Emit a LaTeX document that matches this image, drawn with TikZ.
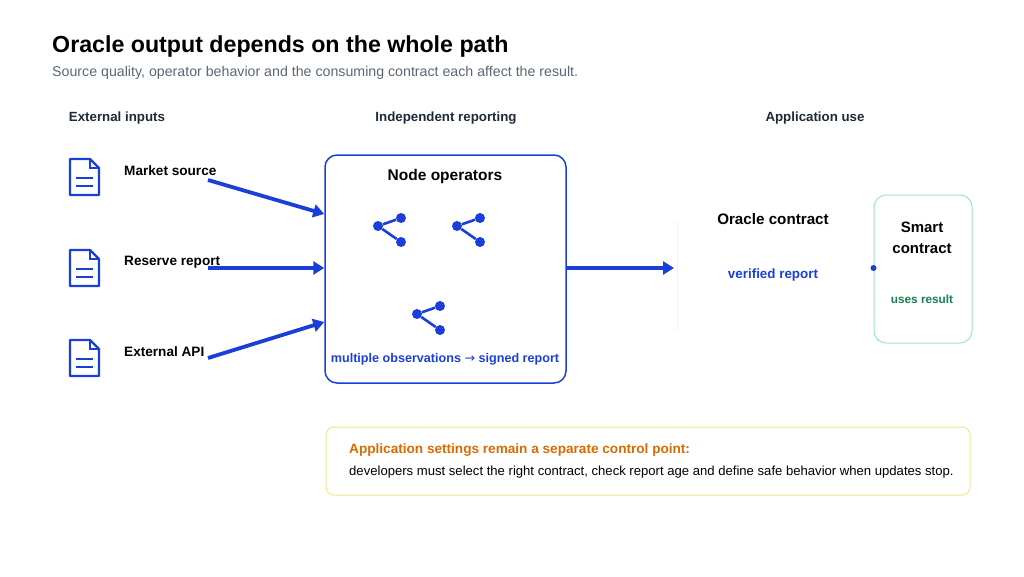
\documentclass[tikz,border=0pt]{standalone}
\usepackage{fontspec}
\setmainfont{Liberation Sans}
\newfontfamily\arrfont{DejaVu Sans}
\usetikzlibrary{arrows.meta}
\definecolor{bl}{HTML}{1A3FD9}
\definecolor{dk}{HTML}{1E2A3A}
\definecolor{gr}{HTML}{5A6675}
\definecolor{tl}{HTML}{9BE3D0}
\definecolor{gn}{HTML}{178050}
\definecolor{yb}{HTML}{F3E58A}
\definecolor{or}{HTML}{D96A00}
\begin{document}
\begin{tikzpicture}[x=1pt,y=-1pt,
  txt/.style={inner sep=0,anchor=west,font=\fontsize{13.6}{15}\selectfont\bfseries},
  hd/.style={inner sep=0,font=\fontsize{13.3}{15}\selectfont\bfseries,text=dk},
  arr/.style={draw=bl,line width=3.8pt,-{Triangle[length=11pt,width=13pt]}},
  dot/.style={circle,fill=bl,inner sep=0,minimum size=10pt}]
\useasboundingbox (0,0) rectangle (1024,576);
\node[inner sep=0,anchor=west,font=\fontsize{23.2}{26}\selectfont\bfseries,text=black] (t) at (52,46) {Oracle output depends on the whole path};
\node[inner sep=0,anchor=west,font=\fontsize{14.2}{16}\selectfont,text=gr] (st) at (52,73) {Source quality, operator behavior and the consuming contract each affect the result.};
\node[hd] (h1) at (117,118) {External inputs};
\node[hd] (h2) at (446,118) {Independent reporting};
\node[hd] (h3) at (815,118) {Application use};
% documents
\foreach \n/\y in {a/177,b/268,c/358}{
  \draw[bl,line width=2.4pt,line join=round] (70,\y-18) -- (90,\y-18) -- (99,\y-9) -- (99,\y+18) -- (70,\y+18) -- cycle;
  \draw[bl,line width=2pt] (90,\y-18) -- (90,\y-9) -- (99,\y-9);
  \draw[bl,line width=2.2pt] (76,\y+1) -- (93,\y+1) (76,\y+9) -- (93,\y+9);
}
\node[txt] (ms) at (124,171) {Market source};
\node[txt] (rr) at (124,262) {Reserve report};
\node[txt] (ea) at (124,352) {External API};
\node[draw=bl,line width=1.5pt,rounded corners=12pt,minimum width=241pt,minimum height=228pt] (ops) at (445.5,269) {};
\node[inner sep=0,font=\fontsize{15.5}{17}\selectfont\bfseries] (opt) at (445,176) {Node operators};
\node[inner sep=0,font=\fontsize{12.6}{14}\selectfont\bfseries,text=bl] (mo) at (445,359) {multiple observations {\arrfont\mdseries →} signed report};
\coordinate (a1) at (208,180); \coordinate (b1) at (208,268); \coordinate (c1) at (208,358);
\draw[arr] (a1) -- (ops.west |- 0,214);
\draw[arr] (b1) -- (ops.west |- 0,268);
\draw[arr] (c1) -- (ops.west |- 0,322);
% share icons
\foreach \x/\y in {389/230,468/230,428/318}{
  \node[dot] (l\x) at (\x-11,\y-4) {};
  \node[dot] (u\x) at (\x+12,\y-12) {};
  \node[dot] (d\x) at (\x+12,\y+12) {};
  \draw[bl,line width=2.6pt] (l\x) -- (u\x) (l\x) -- (d\x);
}
\draw[black!6,line width=0.8pt] (677,222) -- (677,330);
\node[inner sep=0,font=\fontsize{15.2}{17}\selectfont\bfseries] (oc) at (773,219) {Oracle contract};
\node[inner sep=0,font=\fontsize{13.4}{15}\selectfont\bfseries,text=bl] (vr) at (773,275) {verified report};
\draw[arr] (ops.east |- 0,268) -- (674,268);
\node[draw=tl,line width=1pt,rounded corners=12pt,minimum width=98pt,minimum height=148pt] (sc) at (923,269) {};
\node[inner sep=0,align=center,font=\fontsize{15}{21}\selectfont\bfseries] (sct) at (922,238) {Smart\\contract};
\node[inner sep=0,font=\fontsize{11.8}{14}\selectfont\bfseries,text=gn] (ur) at (922,299) {uses result};
\fill[bl] (sc.west |- 0,268) circle (3pt);
\node[draw=yb,line width=1pt,rounded corners=8pt,minimum width=644pt,minimum height=68pt] (ap) at (648,461) {};
\node[inner sep=0,anchor=west,font=\fontsize{13.6}{15}\selectfont\bfseries,text=or] (ap1) at (349,450) {Application settings remain a separate control point:};
\node[inner sep=0,anchor=west,font=\fontsize{13.1}{15}\selectfont,text=black] (ap2) at (349,472) {developers must select the right contract, check report age and define safe behavior when updates stop.};
\end{tikzpicture}
\end{document}
